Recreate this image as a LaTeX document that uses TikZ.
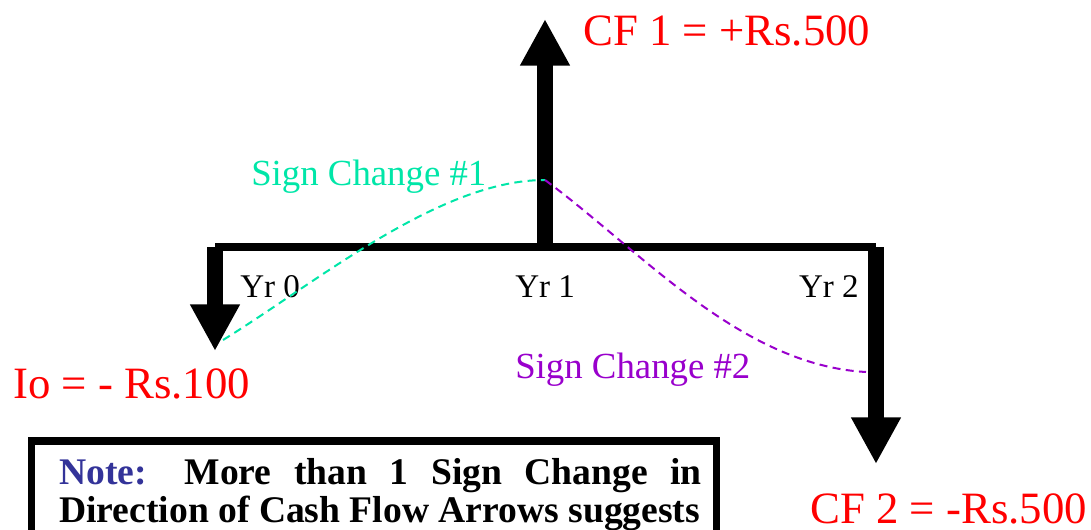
\documentclass[tikz,border=0pt]{standalone}
\usepackage{fontspec}
\setmainfont{Liberation Serif}
\usetikzlibrary{arrows.meta, positioning, calc}
\definecolor{flowred}{HTML}{FF0000}
\definecolor{signteal}{HTML}{00E6A8}
\definecolor{signpurple}{HTML}{9900CC}
\definecolor{noteblue}{HTML}{333399}

\begin{document}
\begin{tikzpicture}[
    x={(0.75pt,0)}, y={(0,-0.75pt)},
    % ── Text styles ──────────────────────────────────────────────────────
    amount/.style={
        inner sep=0pt, anchor=base west, text=flowred,
        font=\fontsize{33.6}{38}\selectfont
    },
    yearlabel/.style={
        inner sep=0pt, anchor=base west,
        font=\fontsize{24.8}{28}\selectfont
    },
    signlabel/.style={
        inner sep=0pt, anchor=base west,
        font=\fontsize{27.6}{31}\selectfont
    },
    notetext/.style={
        inner sep=0pt, anchor=north west, text width=482pt,
        align=justify, font=\fontsize{28.2}{28.5}\selectfont\bfseries
    },
    % ── Line styles ──────────────────────────────────────────────────────
    timeline/.style={line width=6pt, line cap=butt},
    flow/.style={
        -{Triangle[length=35pt, width=35pt]},
        line width=12pt, line cap=butt
    },
    signcurve/.style={
        line width=1.5pt, dash pattern=on 6pt off 4pt
    }
]

\useasboundingbox (0,0) rectangle (1091,529);
\clip (0,0) rectangle (1091,529);

% ═══════════════════════════════════════════════════════════════════════════
% Time line and cash flow arrows
% ═══════════════════════════════════════════════════════════════════════════
\coordinate (t0) at (215,247);
\coordinate (t1) at (545,247);
\coordinate (t2) at (876,247);

\coordinate (tip0) at (215,351);
\coordinate (tip1) at (545,19);
\coordinate (tip2) at (876,464);

\draw[timeline] (t0) -- (t2);
\draw[flow] (t0) -- (tip0);
\draw[flow] (t1) -- (tip1);
\draw[flow] (t2) -- (tip2);

% Year labels
\node[yearlabel] (yr0) at (240,297) {Yr 0};
\node[yearlabel] (yr1) at (515,297) {Yr 1};
\node[yearlabel, anchor=base east] (yr2) at (859,297) {Yr 2};

% Cash flow amounts
\node[amount] (cf1) at (583,45) {CF 1 = +Rs.500};
\node[amount] (io) at (13,398) {Io = - Rs.100};
\node[amount] (cf2) at (810,523) {CF 2 = -Rs.500};

% ═══════════════════════════════════════════════════════════════════════════
% Sign changes
% ═══════════════════════════════════════════════════════════════════════════
\coordinate (sc0) at (223,340);
\coordinate (sc1) at (545,180);
\coordinate (sc2) at (866,372);

\draw[signcurve, signteal] (sc0) .. controls (320,280) and (440,180) .. (sc1);
\draw[signcurve, signpurple] (sc1) .. controls (640,250) and (740,365) .. (sc2);

\node[signlabel, text=signteal] (sign1) at (251,185) {Sign Change \#1};
\node[signlabel, text=signpurple] (sign2) at (515,378) {Sign Change \#2};

% ═══════════════════════════════════════════════════════════════════════════
% Note box
% ═══════════════════════════════════════════════════════════════════════════
\draw[line width=5.6pt] (31.5,441) rectangle (716.5,640);
\node[notetext] (note) at (59,458)
    {\textcolor{noteblue}{Note:}\quad More than 1 Sign Change in\linebreak
     Direction of Cash Flow Arrows suggests};

\end{tikzpicture}
\end{document}
